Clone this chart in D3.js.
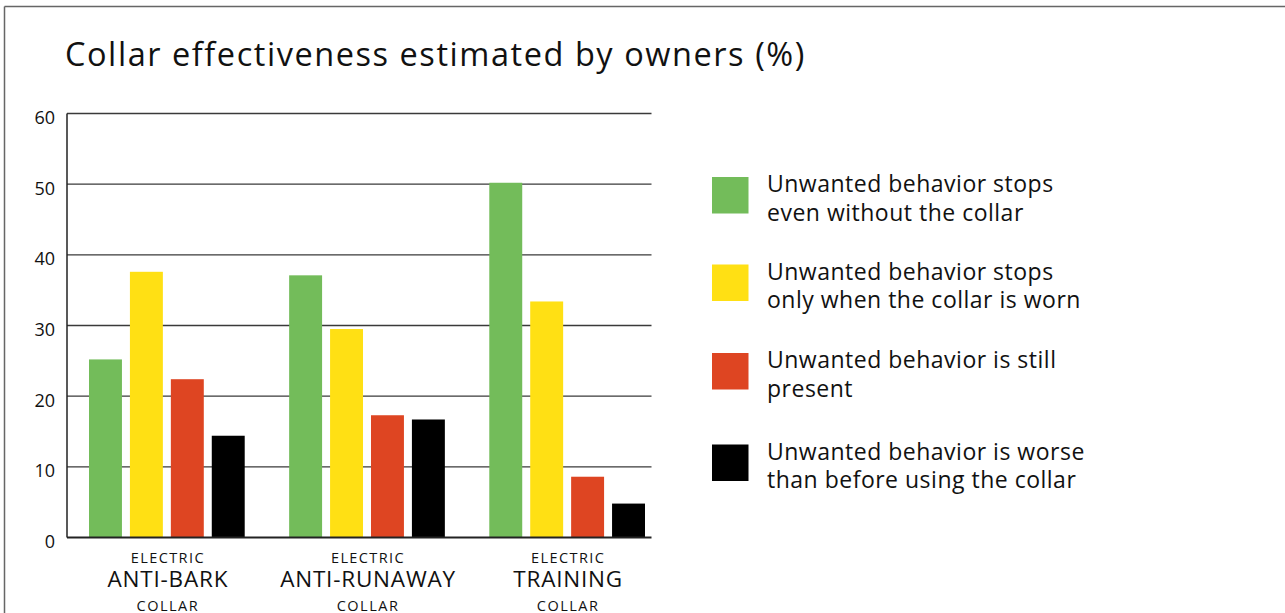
<!DOCTYPE html>
<html>
<head>
<meta charset="utf-8">
<script src="https://cdn.jsdelivr.net/npm/d3@7"></script>
<style>
  html, body { margin: 0; padding: 0; background: #fff; }
  svg { display: block; }
  text { font-family: "Open Sans", Lato, sans-serif; fill: #111; }
</style>
</head>
<body>
<svg id="chart" width="1285" height="613"></svg>
<script>
const title = "Collar effectiveness estimated by owners (%)";
const categories = ["ANTI-BARK", "ANTI-RUNAWAY", "TRAINING"];
const categoryTop = "ELECTRIC";
const categoryBottom = "COLLAR";
const seriesNames = [
  "Unwanted behavior stops even without the collar",
  "Unwanted behavior stops only when the collar is worn",
  "Unwanted behavior is still present",
  "Unwanted behavior is worse than before using the collar"
];
const legendLines = [
  ["Unwanted behavior stops", "even without the collar"],
  ["Unwanted behavior stops", "only when the collar is worn"],
  ["Unwanted behavior is still", "present"],
  ["Unwanted behavior is worse", "than before using the collar"]
];
const seriesColors = ["#73bc5a", "#ffe014", "#de4522", "#000000"];
const stopsWithout = [25.2, 37.1, 50.2];
const stopsWhenWorn = [37.6, 29.5, 33.4];
const stillPresent = [22.4, 17.3, 8.6];
const worse = [14.4, 16.7, 4.8];
const seriesValues = [stopsWithout, stopsWhenWorn, stillPresent, worse];
const yTicks = [0, 10, 20, 30, 40, 50, 60];

const svg = d3.select("#chart");

// border (top + left)
svg.append("line").attr("x1", 4.5).attr("x2", 1285).attr("y1", 6.5).attr("y2", 6.5)
  .attr("stroke", "#666").attr("stroke-width", 1.5);
svg.append("line").attr("x1", 4.5).attr("x2", 4.5).attr("y1", 6.5).attr("y2", 613)
  .attr("stroke", "#666").attr("stroke-width", 1.5);

// title
svg.append("text").attr("x", 65).attr("y", 66)
  .style("font-size", "32.5px").style("letter-spacing", "1.55px").text(title);

const y = d3.scaleLinear().domain([0, 60]).range([537.5, 113.5]);
const x0 = d3.scaleBand().domain(categories).range([89, 645]).paddingInner(0.222).paddingOuter(0);
const x1 = d3.scaleBand().domain(d3.range(seriesNames.length)).range([0, x0.bandwidth()]).paddingInner(0.195).paddingOuter(0);

const axisX = 67, gridEnd = 651.5;

// gridlines
svg.append("g").selectAll("line").data(yTicks.filter(t => t > 0)).join("line")
  .attr("x1", axisX).attr("x2", gridEnd)
  .attr("y1", d => y(d)).attr("y2", d => y(d))
  .attr("stroke", "#3a3a3a").attr("stroke-width", 1.3);

// y axis with labels
const yAxis = d3.axisLeft(y).tickValues(yTicks).tickSize(0).tickPadding(12);
const gy = svg.append("g").attr("transform", `translate(${axisX},0)`).call(yAxis);
gy.select(".domain").remove();
gy.selectAll("text").style("font-size", "18px").style("font-family", "'Open Sans', sans-serif")
  .attr("fill", "#111").attr("dy", "0.55em");

// bars
const groups = svg.append("g").selectAll("g").data(categories).join("g")
  .attr("transform", d => `translate(${x0(d)},0)`);
groups.selectAll("rect").data((d, i) => seriesValues.map((s, k) => ({k, v: s[i]}))).join("rect")
  .attr("x", d => x1(d.k))
  .attr("width", x1.bandwidth())
  .attr("y", d => y(d.v))
  .attr("height", d => y(0) - y(d.v))
  .attr("fill", d => seriesColors[d.k]);

// axis lines
svg.append("line").attr("x1", axisX).attr("x2", axisX).attr("y1", y(60)).attr("y2", y(0))
  .attr("stroke", "#222").attr("stroke-width", 1.5);
svg.append("line").attr("x1", axisX).attr("x2", gridEnd).attr("y1", y(0)).attr("y2", y(0))
  .attr("stroke", "#222").attr("stroke-width", 2);

// category labels
const cl = svg.append("g").selectAll("g").data(categories).join("g")
  .attr("transform", d => `translate(${x0(d) + x0.bandwidth() / 2 + 1},0)`);
cl.append("text").attr("y", 563).attr("text-anchor", "middle")
  .style("font-size", "14.5px").style("letter-spacing", "1.4px").text(categoryTop);
cl.append("text").attr("y", 587).attr("text-anchor", "middle")
  .style("font-size", "22.5px").style("letter-spacing", "0.8px").text(d => d);
cl.append("text").attr("y", 610.5).attr("text-anchor", "middle")
  .style("font-size", "14.5px").style("letter-spacing", "1.5px").text(categoryBottom);

// legend
const legendY = [177, 264.5, 353, 444.5];
const lg = svg.append("g").selectAll("g").data(seriesNames).join("g")
  .attr("transform", (d, i) => `translate(712,${legendY[i]})`);
lg.append("rect").attr("width", 36.5).attr("height", 36.5).attr("fill", (d, i) => seriesColors[i]);
lg.each(function(d, i) {
  const g = d3.select(this);
  legendLines[i].forEach((ln, j) => {
    g.append("text").attr("x", 55).attr("y", 15 + j * 28.7)
      .style("font-size", "23px").style("letter-spacing", "0.5px").text(ln);
  });
});
</script>
</body>
</html>
